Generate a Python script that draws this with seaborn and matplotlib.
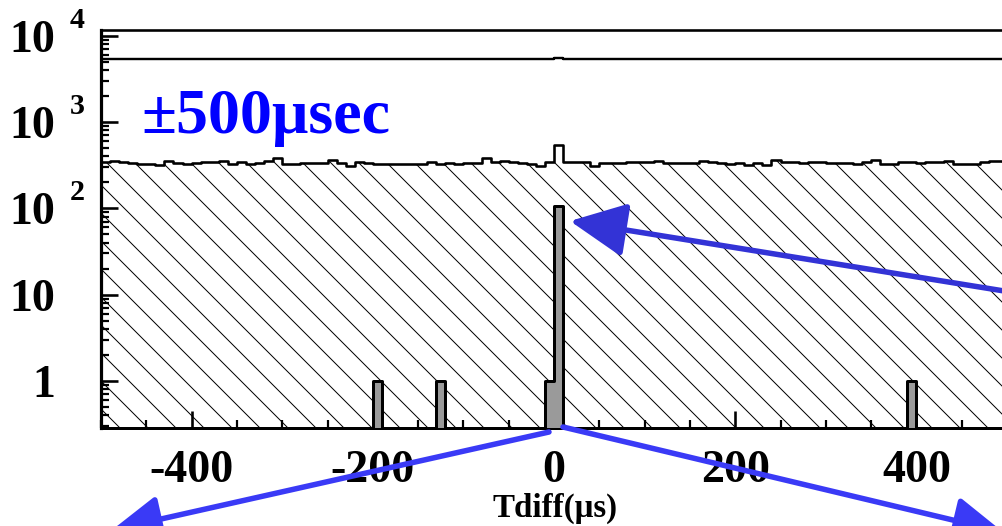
import numpy as np
import pandas as pd
import matplotlib
matplotlib.use("Agg")
import matplotlib.pyplot as plt
import matplotlib.transforms as mtransforms
from matplotlib.ticker import FixedLocator, LogLocator, MultipleLocator, NullFormatter
import seaborn as sns

DPI = 84
W, H = 1002, 526


def pt(pixels):
    """Convert a size in output pixels to points."""
    return pixels * 72.0 / DPI


# ---- histogram binning (10 us bins over +-500 us) ----
t_range = (-500, 500)
bin_width = 10
bin_centers = np.arange(t_range[0], t_range[1], bin_width) + bin_width / 2

# all coincidences in the +-500 us window
all_counts = [
    5380, 5350, 5400, 5330, 5370, 5310, 5360, 5390, 5340, 5320,
    5370, 5350, 5300, 5360, 5380, 5330, 5350, 5390, 5340, 5360,
    5320, 5370, 5350, 5310, 5360, 5340, 5380, 5330, 5350, 5370,
    5340, 5360, 5320, 5350, 5380, 5330, 5360, 5340, 5370, 5310,
    5350, 5330, 5360, 5340, 5380, 5320, 5350, 5360, 5340, 5330,
    5560, 5340, 5360, 5320, 5350, 5370, 5330, 5360, 5340, 5350,
    5330, 5370, 5340, 5360, 5320, 5350, 5380, 5340, 5360, 5330,
    5350, 5370, 5320, 5360, 5340, 5380, 5350, 5330, 5360, 5340,
    5370, 5350, 5330, 5360, 5340, 5300, 5350, 5370, 5340, 5360,
    5330, 5350, 5380, 5340, 5360, 5320, 5350, 5370, 5340, 5360,
]

# selected subset (hatched)
selected_counts = [
    345, 354, 348, 335, 330, 329, 318, 350, 335, 329,
    335, 342, 342, 354, 329, 342, 323, 335, 354, 380,
    329, 329, 335, 335, 335, 360, 335, 307, 342, 335,
    329, 329, 323, 326, 329, 326, 342, 329, 335, 323,
    335, 335, 387, 348, 354, 342, 335, 323, 307, 348,
    542, 348, 348, 348, 307, 335, 335, 335, 342, 342,
    348, 354, 335, 335, 335, 335, 354, 342, 335, 329,
    335, 318, 335, 318, 360, 342, 342, 335, 348, 348,
    335, 335, 335, 329, 348, 360, 329, 329, 342, 342,
    335, 342, 342, 354, 323, 323, 329, 342, 354, 354,
]

# final candidates (grey bars)
final_centers = [-195, -125, -5, 5, 395]
final_counts = [1, 1, 1, 105, 1]

x_major = [-400, -200, 0, 200, 400]
x_labels = ["-400", "-200", "0", "200", "400"]
y_major = [1, 10, 100, 1000, 10000]
y_base = ["1", "10", "10", "10", "10"]
y_exp = ["", "", "2", "3", "4"]

all_df = pd.DataFrame({"tdiff": bin_centers, "n": all_counts})
sel_df = pd.DataFrame({"tdiff": bin_centers, "n": selected_counts})
fin_df = pd.DataFrame({"tdiff": final_centers, "n": final_counts})

sns.set_style("white")
plt.rcParams["font.family"] = ["Liberation Serif", "DejaVu Serif"]
plt.rcParams["font.weight"] = "bold"
plt.rcParams["text.color"] = "black"
plt.rcParams["hatch.linewidth"] = 0.85
plt.rcParams["hatch.color"] = "black"

fig = plt.figure(figsize=(W / DPI, H / DPI), dpi=DPI)
ax = fig.add_axes([101 / W, (H - 428) / H, (1007 - 101) / W, (428 - 30) / H])
ax.set_yscale("log")

hist_kw = dict(x="tdiff", weights="n", binwidth=bin_width, binrange=t_range,
               element="step", color="black", ax=ax)

# all events: open step line
sns.histplot(data=all_df, fill=False, linewidth=pt(2.4), **hist_kw)

# selected events: hatched step histogram
sns.histplot(data=sel_df, fill=True, linewidth=pt(2.6), **hist_kw)
hatched = ax.collections[-1]
hatched.set_alpha(1)
hatched.set_facecolor("none")
hatched.set_edgecolor("black")
hatched.set_hatch("\\")

# final candidates: grey filled bars
sns.histplot(data=fin_df, fill=True, linewidth=pt(3.0), **hist_kw)
grey = ax.collections[-1]
grey.set_alpha(1)
grey.set_facecolor("#9a9a9a")
grey.set_edgecolor("black")
grey.set_zorder(3)

ax.set_xlim(*t_range)
ax.set_ylim(0.285, 11640)
ax.set_xlabel("")
ax.set_ylabel("")

# ticks
ax.xaxis.set_major_locator(FixedLocator(x_major))
ax.xaxis.set_minor_locator(MultipleLocator(50))
ax.yaxis.set_major_locator(FixedLocator(y_major))
ax.yaxis.set_minor_locator(LogLocator(base=10, subs=np.arange(2, 10), numticks=20))
ax.yaxis.set_minor_formatter(NullFormatter())
ax.tick_params(which="both", direction="in", top=False, right=False,
               bottom=True, left=True,
               labelbottom=False, labelleft=False, color="black")
ax.tick_params(which="major", length=pt(17), width=pt(2.6))
ax.tick_params(which="minor", length=pt(8), width=pt(2.2))

for side in ["left", "bottom", "top", "right"]:
    ax.spines[side].set_visible(True)
    ax.spines[side].set_color("black")
ax.spines["left"].set_linewidth(pt(3.2))
ax.spines["bottom"].set_linewidth(pt(3.0))
ax.spines["top"].set_linewidth(pt(2.6))
ax.spines["right"].set_linewidth(pt(2.6))

# y tick labels in "10 ^n" form
ytrans = ax.get_yaxis_transform()
for v, b, e in zip(y_major, y_base, y_exp):
    tb = mtransforms.offset_copy(ytrans, fig=fig, x=-46, y=-16, units="dots")
    ax.text(0, v, b, transform=tb, ha="right", va="baseline", color="black",
            fontsize=pt(46), fontweight="bold", clip_on=False)
    if e:
        te = mtransforms.offset_copy(ytrans, fig=fig, x=-31, y=8, units="dots")
        ax.text(0, v, e, transform=te, ha="left", va="baseline", color="black",
                fontsize=pt(30), fontweight="bold", clip_on=False)

# x tick labels
xtrans = ax.get_xaxis_transform()
tx = mtransforms.offset_copy(xtrans, fig=fig, x=0, y=-54, units="dots")
for v, lab in zip(x_major, x_labels):
    ax.text(v, 0, lab, transform=tx, ha="center", va="baseline", color="black",
            fontsize=pt(46), fontweight="bold", clip_on=False)

fig.text(555 / W, (H - 517) / H, "Tdiff(\u03bcs)", ha="center", va="baseline",
         fontsize=pt(33), fontweight="bold", color="black")

fig.text(141 / W, (H - 133) / H, "\u00b1500\u03bcsec", ha="left", va="baseline",
         fontsize=pt(64), fontweight="bold", color="#0000ff")


# pointer arrows (figure pixel coordinates, origin bottom-left)
def arrow(tail, tip, color, hl, hw):
    ax.annotate("", xy=(tip[0], H - tip[1]), xytext=(tail[0], H - tail[1]),
                xycoords="figure pixels", textcoords="figure pixels",
                annotation_clip=False,
                arrowprops=dict(arrowstyle=f"-|>,head_length={hl},head_width={hw}",
                                mutation_scale=1, lw=pt(5.5), color=color,
                                shrinkA=0, shrinkB=0))


arrow((1060, 300), (570, 221), "#3333d6", pt(48), pt(23))
arrow((549, 432), (112, 530), "#3a3af6", pt(42), pt(20))
arrow((563, 427), (1003, 532), "#3a3af6", pt(42), pt(20))

fig.savefig("out.png", dpi=DPI)
